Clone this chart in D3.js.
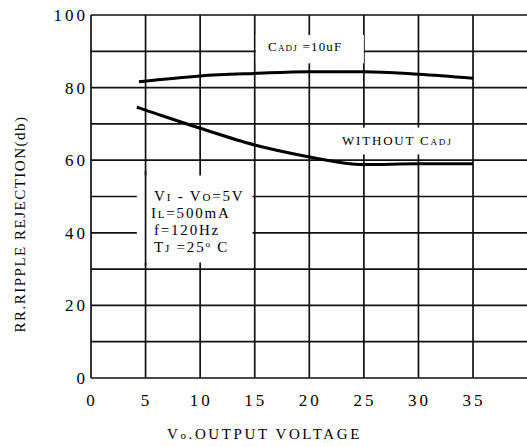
<!DOCTYPE html>
<html>
<head>
<meta charset="utf-8">
<script src="https://cdn.jsdelivr.net/npm/d3@7"></script>
<style>
  body { margin: 0; background: #fff; }
  svg { display: block; }
</style>
</head>
<body>
<div id="chart"></div>
<script>
// values
let xTicks = [0, 5, 10, 15, 20, 25, 30, 35];
let yTicks = [0, 20, 40, 60, 80, 100];
let adjVolts = [4.4, 10, 15, 20, 25, 30, 35];
let adjRR = [81.6, 83.2, 83.9, 84.4, 84.4, 83.7, 82.6];
let noAdjVolts = [4.2, 5, 10, 15, 20, 23, 25, 30, 35];
let noAdjRR = [74.6, 73.8, 68.8, 64.2, 60.9, 59.3, 58.8, 59.0, 59.0];
let condLines = [
  [["V", ""], ["I", "sub"], [" - ", ""], ["V", ""], ["O", "sub"], ["=5V", ""]],
  [["I", ""], ["L", "sub"], ["=500mA", ""]],
  [["f=120Hz", ""]],
  [["T", ""], ["J", "sub"], [" =25", ""], ["o", "sup"], [" C", ""]]
];

let width = 527, height = 447;
let margin = {top: 15, right: 0, bottom: 69, left: 91};
let fontFamily = '"Liberation Serif", "DejaVu Serif", serif';

const svg = d3.select("#chart")
  .append("svg")
  .attr("width", width)
  .attr("height", height);

let x = d3.scaleLinear()
  .domain([0, 40])
  .range([margin.left, 527.6]);

let y = d3.scaleLinear()
  .domain([0, 100])
  .range([height - margin.bottom, margin.top]);

let grid = svg.append("g")
  .attr("stroke", "#111")
  .attr("stroke-width", 1.7);

// horizontal grid every 10
grid.selectAll("line.h")
  .data(d3.range(0, 101, 10))
  .enter().append("line")
    .attr("x1", x(0))
    .attr("x2", x(40))
    .attr("y1", d => y(d))
    .attr("y2", d => y(d));

// vertical grid every 5
grid.selectAll("line.v")
  .data(d3.range(0, 36, 5))
  .enter().append("line")
    .attr("x1", d => x(d))
    .attr("x2", d => x(d))
    .attr("y1", y(0))
    .attr("y2", y(100));

// white label backgrounds that break the grid
function blank(v0, v1, r0, r1) {
  svg.append("rect")
    .attr("x", x(v0))
    .attr("y", y(r1))
    .attr("width", x(v1) - x(v0))
    .attr("height", y(r0) - y(r1))
    .attr("fill", "#fff");
}
blank(4.2, 14.8, 31.8, 55.8);
blank(15.1, 25, 86.7, 94.5);
blank(22.1, 33.8, 61.6, 69.0);

// the 5V line runs through the conditions box
svg.append("line")
  .attr("x1", x(5)).attr("x2", x(5))
  .attr("y1", y(31)).attr("y2", y(57))
  .attr("stroke", "#111")
  .attr("stroke-width", 1.7);

// curves
let line = d3.line()
  .x(d => x(d[0]))
  .y(d => y(d[1]))
  .curve(d3.curveMonotoneX);

svg.append("path")
  .datum(d3.zip(adjVolts, adjRR))
  .attr("d", line)
  .attr("fill", "none")
  .attr("stroke", "#000")
  .attr("stroke-width", 3);

svg.append("path")
  .datum(d3.zip(noAdjVolts, noAdjRR))
  .attr("d", line)
  .attr("fill", "none")
  .attr("stroke", "#000")
  .attr("stroke-width", 3);

// tick labels
svg.append("g")
  .selectAll("text")
  .data(xTicks)
  .enter().append("text")
    .attr("x", d => x(d) + 1)
    .attr("y", 406)
    .attr("text-anchor", "middle")
    .style("font-family", fontFamily)
    .style("font-size", "17px")
    .style("letter-spacing", "3px")
    .text(d => d);

svg.append("g")
  .selectAll("text")
  .data(yTicks)
  .enter().append("text")
    .attr("x", x(0) - 3)
    .attr("y", d => y(d) + 6)
    .attr("text-anchor", "end")
    .style("font-family", fontFamily)
    .style("font-size", "17px")
    .style("letter-spacing", "3px")
    .text(d => d);

// axis titles
let xt = svg.append("text")
  .attr("x", 167)
  .attr("y", 439)
  .style("font-family", fontFamily)
  .style("font-size", "15px")
  .style("letter-spacing", "2.6px");
xt.append("tspan").text("V");
xt.append("tspan").style("font-size", "11px").text("o");
xt.append("tspan").text(".OUTPUT  VOLTAGE");

svg.append("text")
  .attr("transform", `translate(25, ${224}) rotate(-90)`)
  .attr("text-anchor", "middle")
  .style("font-family", fontFamily)
  .style("font-size", "15px")
  .style("letter-spacing", "1.5px")
  .text("RR.RIPPLE  REJECTION(db)");

// curve labels
function richText(px, py, parts, size, spacing) {
  let t = svg.append("text")
    .attr("x", px)
    .attr("y", py)
    .style("font-family", fontFamily)
    .style("font-size", size + "px")
    .style("letter-spacing", spacing + "px");
  parts.forEach((p, i) => {
    let s = t.append("tspan").text(p[0]);
    if (p[1] === "sub") s.style("font-size", (size - 4) + "px");
    if (p[1] === "sup") s.style("font-size", (size - 6) + "px").attr("dy", -5);
    if (p[1] === "" && i > 0 && parts[i - 1][1] === "sup") s.attr("dy", 5);
  });
  return t;
}

richText(268, 51, [["C", ""], ["ADJ", "sub"], [" =10uF", ""]], 13, 1.2);
richText(342, 145, [["WITHOUT  C", ""], ["ADJ", "sub"]], 13, 1.8);

condLines.forEach((parts, i) => {
  richText(i === 1 ? 151 : 154, 201 + i * 17, parts, 15, 1.8);
});
</script>
</body>
</html>
